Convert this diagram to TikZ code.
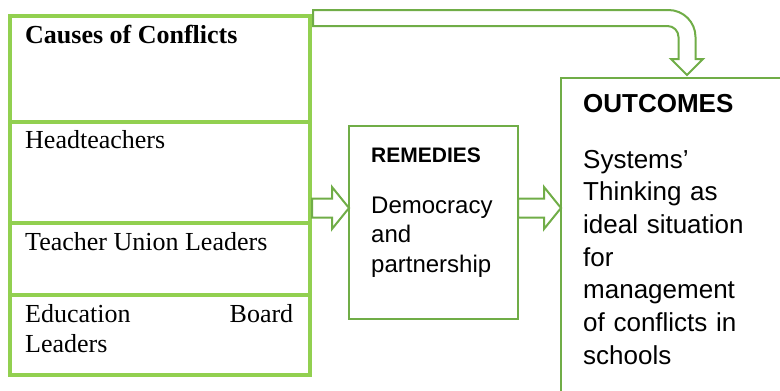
\documentclass[tikz,border=0pt]{standalone}
\usepackage{fontspec}
\setmainfont{Liberation Serif}
\newfontfamily\sansf{Liberation Sans}
\usepackage{tikz}
\usetikzlibrary{positioning,calc}
\definecolor{cellgreen}{HTML}{92D050}
\definecolor{flowgreen}{HTML}{70AD47}
\tikzset{
  cellbox/.style = {draw=cellgreen, line width=3.3pt, inner sep=0pt,
    outer sep=0pt, minimum width=300pt},% colonne des causes
  flowbox/.style = {draw=flowgreen, line width=2pt, inner sep=0pt,
    outer sep=0pt, anchor=north west},% remedes, resultats
  serif_t/.style = {anchor=base west, inner sep=0pt, align=left,
    font=\fontsize{26}{30}\selectfont},
  sans_t/.style = {anchor=base west, inner sep=0pt, align=left,
    font=\sansf\fontsize{26}{32.7}\selectfont},
  fat_arrow/.style = {draw=flowgreen, line width=2pt, fill=white,
    line join=miter}
}
% grosse fleche horizontale: depart, pointe
\newcommand\flowarrow[2]{%
  \draw[fat_arrow] let \p1=(#1), \p2=(#2) in
    (\x1,\y2+9.5pt) -- (\x2-17pt,\y2+9.5pt) -- (\x2-17pt,\y2+21pt)
    -- (\x2,\y2) -- (\x2-17pt,\y2-21pt) -- (\x2-17pt,\y2-9.5pt)
    -- (\x1,\y2-9.5pt) -- cycle;}
\begin{document}
\begin{tikzpicture}[x=1pt,y=-1pt]
\useasboundingbox (0,0) rectangle (780,391);
\clip (0,0) rectangle (780,391);
% causes
\node [cellbox, anchor=north west, minimum height=106pt] (c1) at (10,16) {};
\node [cellbox, minimum height=101pt, below=0pt of c1] (c2) {};
\node [cellbox, minimum height=72pt, below=0pt of c2] (c3) {};
\node [cellbox, minimum height=80pt, below=0pt of c3] (c4) {};
\node [serif_t] (t1) at ($(c1.north west)+(15,27)$) {\bfseries Causes of Conflicts};
\node [serif_t] (t2) at ($(c2.north west)+(15,26)$) {Headteachers};
\node [serif_t] (t3) at ($(c3.north west)+(15,27)$) {Teacher Union Leaders};
\node [serif_t, text width=268pt] (t4) at ($(c4.north west)+(15,27)$)
      {Education\hfill Board\\Leaders};
% remedes
\node [flowbox, minimum width=169pt, minimum height=193pt] (rem) at (349,126) {};
\node [sans_t, font=\sansf\bfseries\fontsize{21}{25}\selectfont] (r1)
      at ($(rem.north west)+(22,36)$) {REMEDIES};
\node [sans_t, text width=140pt, font=\sansf\fontsize{24}{29.5}\selectfont] (r2)
      at ($(rem.north west)+(22,87)$) {Democracy\\and\\partnership};
% resultats
\node [flowbox, minimum width=260pt, minimum height=340pt] (out) at (561,78) {};
\node [sans_t, font=\sansf\bfseries\fontsize{26}{30}\selectfont] (o1)
      at ($(out.north west)+(22,34)$) {OUTCOMES};
\node [sans_t, text width=190pt] (o2) at ($(out.north west)+(22,90)$)
      {Systems’\\Thinking as\\ideal situation\\for\\management\\of conflicts in\\schools};
% fleches
\coordinate (tipA) at ($(rem.north west)+(0,82)$);
\coordinate (tipB) at ($(out.north west)+(0,130)$);
\coordinate (tipC) at ($(out.north west)+(126,-3)$);
\flowarrow{$(c2.east)+(2,0)$}{tipA}
\flowarrow{rem.east}{tipB}
\draw [fat_arrow] let \p1=(c1.north east), \p2=(tipC) in
    (\x1+3pt,\y1+6pt) -- (\x2-18.5pt,\y1+6pt)
    arc[start angle=90, end angle=0, radius=27pt]
    -- (\x2+8.5pt,\y2+16pt) -- (\x2+16pt,\y2+16pt) -- (\x2,\y2)
    -- (\x2-16pt,\y2+16pt) -- (\x2-8.5pt,\y2+16pt) -- (\x2-8.5pt,\y1-21pt)
    arc[start angle=0, end angle=90, radius=11pt]
    -- (\x1+3pt,\y1-10pt) -- cycle;
\end{tikzpicture}
\end{document}
